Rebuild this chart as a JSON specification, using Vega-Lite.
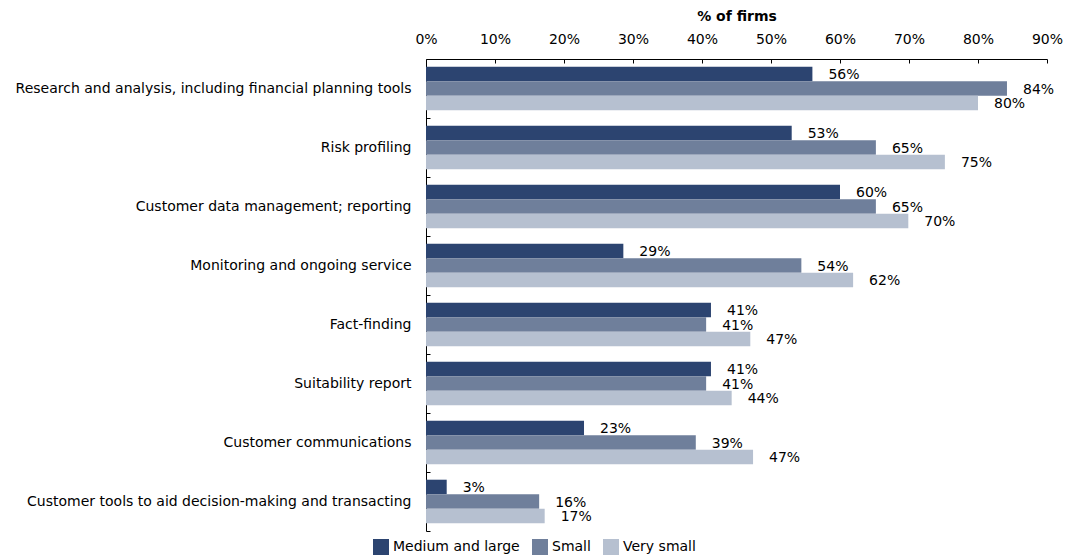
{
  "$schema": "https://vega.github.io/schema/vega-lite/v6.json",
  "autosize": {"type": "none"},
  "padding": {"left": 426, "top": 59, "right": 30, "bottom": 29},
  "width": 621,
  "height": 472,
  "config": {
    "font": "DejaVu Sans",
    "view": {"stroke": null},
    "axis": {"labelColor": "#000", "titleColor": "#000", "domainColor": "#000", "tickColor": "#000", "grid": false}
  },
  "data": {
    "values": [
      {"activity": "Research and analysis, including financial planning tools", "size": "Medium and large", "pct": 0.56},
      {"activity": "Research and analysis, including financial planning tools", "size": "Small", "pct": 0.842},
      {"activity": "Research and analysis, including financial planning tools", "size": "Very small", "pct": 0.80},
      {"activity": "Risk profiling", "size": "Medium and large", "pct": 0.53},
      {"activity": "Risk profiling", "size": "Small", "pct": 0.652},
      {"activity": "Risk profiling", "size": "Very small", "pct": 0.752},
      {"activity": "Customer data management; reporting", "size": "Medium and large", "pct": 0.60},
      {"activity": "Customer data management; reporting", "size": "Small", "pct": 0.652},
      {"activity": "Customer data management; reporting", "size": "Very small", "pct": 0.699},
      {"activity": "Monitoring and ongoing service", "size": "Medium and large", "pct": 0.286},
      {"activity": "Monitoring and ongoing service", "size": "Small", "pct": 0.544},
      {"activity": "Monitoring and ongoing service", "size": "Very small", "pct": 0.619},
      {"activity": "Fact-finding", "size": "Medium and large", "pct": 0.413},
      {"activity": "Fact-finding", "size": "Small", "pct": 0.406},
      {"activity": "Fact-finding", "size": "Very small", "pct": 0.47},
      {"activity": "Suitability report", "size": "Medium and large", "pct": 0.413},
      {"activity": "Suitability report", "size": "Small", "pct": 0.406},
      {"activity": "Suitability report", "size": "Very small", "pct": 0.443},
      {"activity": "Customer communications", "size": "Medium and large", "pct": 0.229},
      {"activity": "Customer communications", "size": "Small", "pct": 0.391},
      {"activity": "Customer communications", "size": "Very small", "pct": 0.474},
      {"activity": "Customer tools to aid decision-making and transacting", "size": "Medium and large", "pct": 0.03},
      {"activity": "Customer tools to aid decision-making and transacting", "size": "Small", "pct": 0.164},
      {"activity": "Customer tools to aid decision-making and transacting", "size": "Very small", "pct": 0.172}
    ]
  },
  "encoding": {
    "y": {
      "field": "activity", "type": "nominal", "sort": null,
      "scale": {"paddingInner": 0, "paddingOuter": 0},
      "axis": {"title": null, "bandPosition": 1, "tickSize": -4, "labelPadding": 19, "labelFontSize": 14, "labelLimit": 0}
    },
    "yOffset": {
      "field": "size", "type": "nominal", "sort": ["Medium and large", "Small", "Very small"],
      "scale": {"paddingInner": 0, "paddingOuter": 0.53}
    },
    "x": {
      "field": "pct", "type": "quantitative",
      "scale": {"domain": [0, 0.9]},
      "axis": {
        "orient": "top", "format": ".0%", "values": [0, 0.1, 0.2, 0.3, 0.4, 0.5, 0.6, 0.7, 0.8, 0.9],
        "title": "% of firms", "titleFontWeight": "bold", "titleFontSize": 14, "titlePadding": 9,
        "tickSize": -4, "labelPadding": 17, "labelFontSize": 14, "labelFlush": false, "labelOverlap": false
      }
    }
  },
  "layer": [
    {
      "mark": {"type": "bar"},
      "encoding": {
        "color": {
          "field": "size", "type": "nominal",
          "sort": ["Medium and large", "Small", "Very small"],
          "scale": {"domain": ["Medium and large", "Small", "Very small"], "range": ["#2c4470", "#6f7f9b", "#b6c0d0"]},
          "legend": {
            "title": null, "orient": "none", "direction": "horizontal", "legendX": -53, "legendY": 480,
            "symbolType": "square", "symbolSize": 256, "symbolStrokeWidth": 0, "symbolOpacity": 1,
            "labelFontSize": 14, "labelColor": "#000", "labelOffset": 4, "columnPadding": 12
          }
        }
      }
    },
    {
      "mark": {"type": "text", "align": "left", "baseline": "middle", "dx": 16, "dy": 1, "fontSize": 14, "color": "#000"},
      "encoding": {"text": {"field": "pct", "type": "quantitative", "format": ".0%"}}
    }
  ]
}
